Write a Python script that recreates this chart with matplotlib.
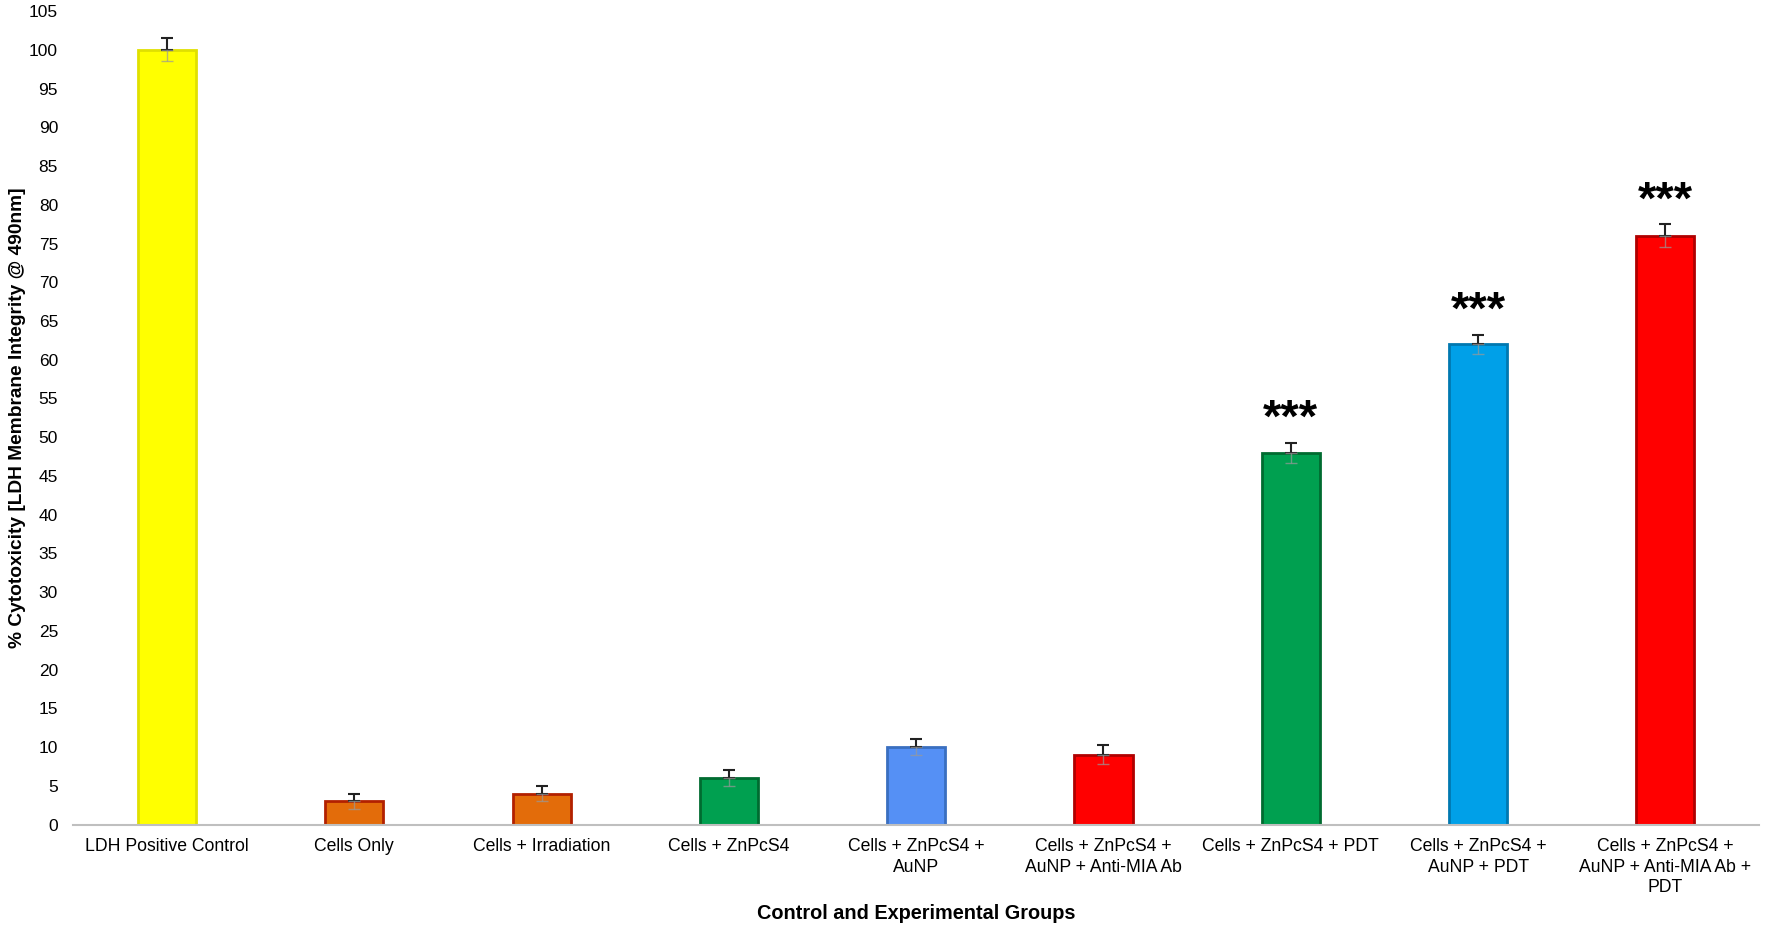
import numpy as np
import matplotlib.pyplot as plt

plt.rcParams['font.family'] = ['Liberation Sans', 'DejaVu Sans']

groups = ['LDH Positive Control', 'Cells Only', 'Cells + Irradiation', 'Cells + ZnPcS4',
          'Cells + ZnPcS4 +\nAuNP', 'Cells + ZnPcS4 +\nAuNP + Anti-MIA Ab',
          'Cells + ZnPcS4 + PDT', 'Cells + ZnPcS4 +\nAuNP + PDT',
          'Cells + ZnPcS4 +\nAuNP + Anti-MIA Ab +\nPDT']
cytotoxicity = [100, 3, 4, 6, 10, 9, 48, 62, 76]
errors = [1.5, 1.0, 1.0, 1.0, 1.0, 1.2, 1.3, 1.2, 1.5]
significance = ['', '', '', '', '', '', '***', '***', '***']

fill_colors = ['#FFFF00', '#E36C0A', '#E36C0A', '#00A050', '#5590F5',
               '#FF0000', '#00A050', '#00A0E8', '#FF0000']
edge_colors = ['#E0E000', '#B22000', '#B22000', '#006B30', '#3A6FC0',
               '#B00000', '#006B30', '#0078B0', '#B00000']


def main():
    fig = plt.figure(figsize=(17.67, 9.26), dpi=100)
    ax = fig.add_axes([0.0415, 0.1096, 0.954, 0.8784])
    x = np.arange(len(groups))

    ax.bar(x, cytotoxicity, width=0.31, color=fill_colors, edgecolor=edge_colors,
           linewidth=2, zorder=2)

    # upper half of the error bar in black, lower half faint inside the bar
    zeros = np.zeros(len(errors))
    ax.errorbar(x, cytotoxicity, yerr=[zeros, errors], fmt='none', ecolor='#222222',
                elinewidth=1.5, capsize=4, capthick=1.5, zorder=3)
    ax.errorbar(x, cytotoxicity, yerr=[errors, zeros], fmt='none', ecolor='#999999',
                elinewidth=1.0, capsize=4, capthick=1.0, alpha=0.7, zorder=3)

    for xi, val, err, star in zip(x, cytotoxicity, errors, significance):
        if star:
            ax.text(xi, val + err + 0.1, star, ha='center', va='bottom',
                    fontsize=34, fontweight='bold')

    ax.set_xlim(-0.5, len(groups) - 0.5)
    ax.set_ylim(0, 105)
    ax.set_yticks(np.arange(0, 106, 5))
    ax.set_xticks(x)
    ax.set_xticklabels(groups, fontsize=12.7, linespacing=1.25)
    ax.tick_params(axis='both', length=0)
    ax.tick_params(axis='x', pad=10, labelsize=12.7)
    ax.tick_params(axis='y', pad=11, labelsize=12.5)

    for side in ['top', 'right', 'left']:
        ax.spines[side].set_visible(False)
    ax.spines['bottom'].set_color('#BFBFBF')
    ax.spines['bottom'].set_linewidth(1.5)

    ax.set_xlabel('Control and Experimental Groups', fontsize=14.3, fontweight='bold',
                  labelpad=6)
    ax.set_ylabel('% Cytotoxicity [LDH Membrane Integrity @ 490nm]', fontsize=13.8,
                  fontweight='bold')
    ax.yaxis.set_label_coords(-0.028, 0.5)

    fig.savefig('out.png', dpi=100)


if __name__ == "__main__":
    main()
